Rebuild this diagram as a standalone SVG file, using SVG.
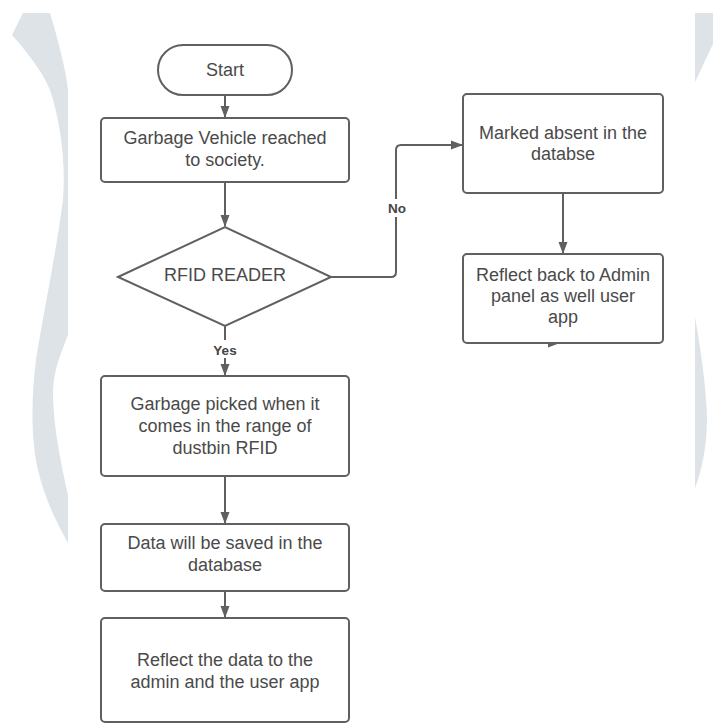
<svg xmlns="http://www.w3.org/2000/svg" width="713" height="724" viewBox="0 0 713 724">
  <defs>
    <style>
      .box { fill: #ffffff; stroke: #606060; stroke-width: 2; }
      .lbl { font-family: "Liberation Sans", Arial, sans-serif; font-size: 18px; fill: #4a4a4a; text-anchor: middle; }
      .edge { fill: none; stroke: #606060; stroke-width: 2; }
      .tag { font-family: "Liberation Sans", Arial, sans-serif; font-size: 13.5px; font-weight: bold; fill: #444444; text-anchor: middle; }
      .wm { fill: #dde3e7; }
    </style>
    <marker id="arrow" markerUnits="userSpaceOnUse" markerWidth="12" markerHeight="10" refX="11" refY="5" orient="auto">
      <path d="M0,0.5 L12,5 L0,9.5 Z" fill="#606060"/>
    </marker>
  </defs>

  <rect x="0" y="0" width="713" height="724" fill="#ffffff"/>

  <!-- page decoration curves at the margins -->
  <g id="decoration">
    <path class="wm" d="M23,13 L50,13 C58,40 66,70 68,90 L68,335 C60,355 54,370 53,390 C53,420 58,450 68,495 L68,543 C58,525 45,500 38,470 C31,440 31,400 36,360 C42,320 55,260 63,200 C66,160 60,120 50,90 C42,70 25,50 12,35 Z"/>
    <path class="wm" d="M695,13 L713,13 L713,44 L695,82 Z"/>
    <path class="wm" d="M695,317 C700,345 706,385 707,418 C707,445 702,470 695,488 Z"/>
  </g>

  <!-- connectors -->
  <g id="connectors">
    <path class="edge" d="M225,95 L225,117" marker-end="url(#arrow)"/>
    <path class="edge" d="M225,182 L225,226" marker-end="url(#arrow)"/>
    <path class="edge" d="M225,326 L225,375" marker-end="url(#arrow)"/>
    <path class="edge" d="M225,476 L225,523" marker-end="url(#arrow)"/>
    <path class="edge" d="M225,591 L225,617" marker-end="url(#arrow)"/>
    <path class="edge" d="M331,277 L391,277 Q396,277 396,272 L396,150 Q396,145 401,145 L462,145" marker-end="url(#arrow)"/>
    <path class="edge" d="M563,193 L563,253" marker-end="url(#arrow)"/>
    <path class="edge" d="M546,343 L559,343" marker-end="url(#arrow)"/>
    <rect x="384" y="199" width="26" height="18" fill="#ffffff"/>
    <text class="tag" x="397" y="213">No</text>
    <rect x="210" y="340" width="30" height="18" fill="#ffffff"/>
    <text class="tag" x="225" y="355">Yes</text>
  </g>

  <g id="start">
    <rect class="box" x="158" y="45" width="134" height="50" rx="25" ry="25"/>
    <text class="lbl" x="225" y="76">Start</text>
  </g>

  <g id="vehicle-reached">
    <rect class="box" x="101" y="118" width="248" height="64" rx="4"/>
    <text class="lbl" x="225" y="144">Garbage Vehicle reached</text>
    <text class="lbl" x="225" y="166">to society.</text>
  </g>

  <g id="rfid-reader">
    <path class="box" d="M118,277 L225,227 L331,277 L225,326 Z"/>
    <text class="lbl" x="225" y="281">RFID READER</text>
  </g>

  <g id="marked-absent">
    <rect class="box" x="463" y="94" width="200" height="99" rx="4"/>
    <text class="lbl" x="563" y="139">Marked absent in the</text>
    <text class="lbl" x="563" y="160">databse</text>
  </g>

  <g id="reflect-back">
    <rect class="box" x="463" y="254" width="200" height="89" rx="4"/>
    <text class="lbl" x="563" y="281">Reflect back to Admin</text>
    <text class="lbl" x="563" y="302">panel as well user</text>
    <text class="lbl" x="563" y="323">app</text>
  </g>

  <g id="garbage-picked">
    <rect class="box" x="101" y="376" width="248" height="100" rx="4"/>
    <text class="lbl" x="225" y="410">Garbage picked when it</text>
    <text class="lbl" x="225" y="432">comes in the range of</text>
    <text class="lbl" x="225" y="454">dustbin RFID</text>
  </g>

  <g id="data-saved">
    <rect class="box" x="101" y="524" width="248" height="67" rx="4"/>
    <text class="lbl" x="225" y="549">Data will be saved in the</text>
    <text class="lbl" x="225" y="571">database</text>
  </g>

  <g id="reflect-data">
    <rect class="box" x="101" y="618" width="248" height="104" rx="4"/>
    <text class="lbl" x="225" y="666">Reflect the data to the</text>
    <text class="lbl" x="225" y="688">admin and the user app</text>
  </g>
</svg>
